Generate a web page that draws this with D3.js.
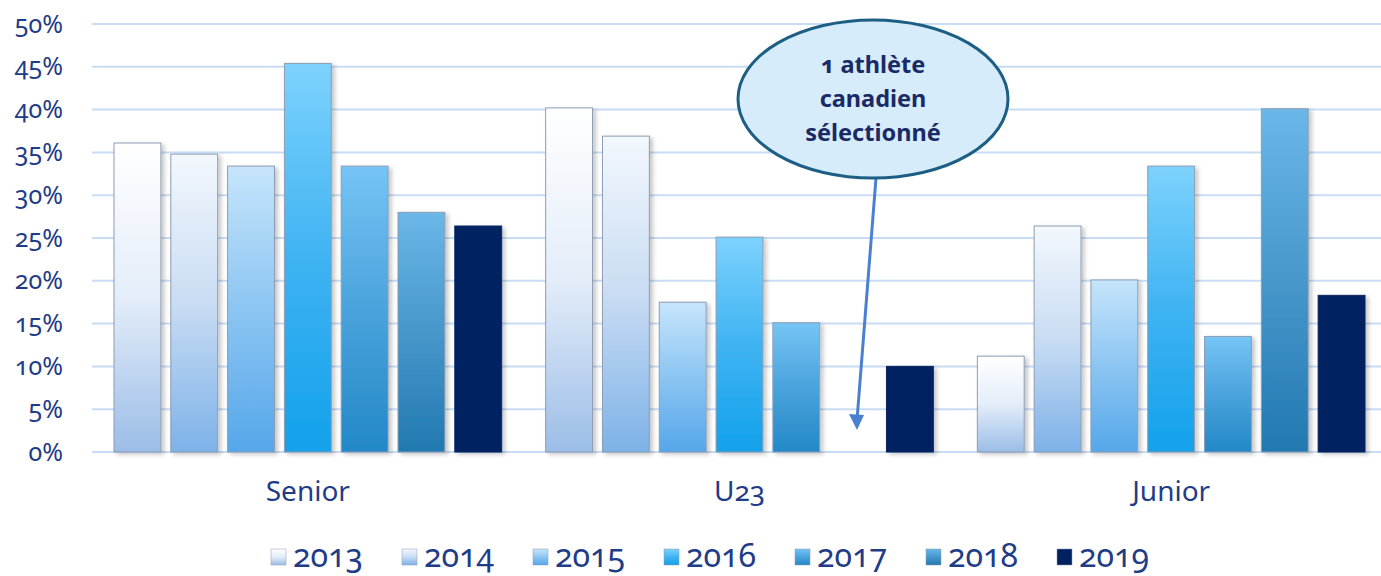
<!DOCTYPE html>
<html>
<head>
<meta charset="utf-8">
<script src="https://cdn.jsdelivr.net/npm/d3@7"></script>
<style>
  body { margin: 0; background: #fff; }
  text { font-family: "Noto Sans", "Open Sans", sans-serif; font-variant-numeric: oldstyle-nums; }
</style>
</head>
<body>
<div id="chart"></div>
<script>
// data (share of athletes, per category and year)
var categories = ["Senior", "U23", "Junior"];
var years = ["2013", "2014", "2015", "2016", "2017", "2018", "2019"];
var senior = [0.361, 0.348, 0.334, 0.454, 0.334, 0.280, 0.264];
var u23    = [0.402, 0.369, 0.175, 0.251, 0.151, null, 0.100];
var junior = [0.112, 0.264, 0.201, 0.334, 0.135, 0.401, 0.183];
var yTicks = [0, 0.05, 0.10, 0.15, 0.20, 0.25, 0.30, 0.35, 0.40, 0.45, 0.50];
var calloutLines = ["1 athlète", "canadien", "sélectionné"];

// gradient colours per year (top -> bottom)
var yearColors = {
  "2013": ["#ffffff", "#e4edf9", "#9bbde7"],
  "2014": ["#f3f8fd", "#c9dcf3", "#7db2e8"],
  "2015": ["#c6e5fb", "#8cc5f2", "#55a7ea"],
  "2016": ["#7dd2fd", "#3fb3f2", "#12a1eb"],
  "2017": ["#76c4f5", "#4aa3dc", "#2388c7"],
  "2018": ["#6ab7e8", "#4797cb", "#2179b0"],
  "2019": ["#002060", "#002060", "#002060"]
};

var values = [senior, u23, junior];
var data = categories.map(function(c, i) {
  return { cat: c, bars: years.map(function(y, j) { return { year: y, value: values[i][j] }; }) };
});

var W = 1381, H = 576;
var textColor = "#1f3c88";

var svg = d3.select("#chart").append("svg")
    .attr("width", W)
    .attr("height", H);

var defs = svg.append("defs");
years.forEach(function(y) {
  var g = defs.append("linearGradient")
      .attr("id", "grad" + y)
      .attr("x1", 0).attr("y1", 0).attr("x2", 0).attr("y2", 1);
  g.append("stop").attr("offset", "0%").attr("stop-color", yearColors[y][0]);
  g.append("stop").attr("offset", "50%").attr("stop-color", yearColors[y][1]);
  g.append("stop").attr("offset", "100%").attr("stop-color", yearColors[y][2]);
});
var shadow = defs.append("filter").attr("id", "shadow")
    .attr("x", "-20%").attr("y", "-10%").attr("width", "150%").attr("height", "130%");
shadow.append("feDropShadow")
    .attr("dx", 3).attr("dy", 2).attr("stdDeviation", 2)
    .attr("flood-color", "#000").attr("flood-opacity", 0.22);

// scales
var x0 = d3.scaleBand()
    .domain(categories)
    .range([92, 1387]);

var x1 = d3.scaleBand()
    .domain(years)
    .range([22, x0.bandwidth() - 22])
    .paddingInner(0.175);

var y = d3.scaleLinear()
    .domain([0, 0.5])
    .range([452, 24]);

// gridlines
svg.append("g").selectAll("line")
  .data(yTicks)
  .enter().append("line")
    .attr("x1", 92).attr("x2", W)
    .attr("y1", function(d) { return y(d); })
    .attr("y2", function(d) { return y(d); })
    .attr("stroke", "#c8dcf6")
    .attr("stroke-width", 2);

// y axis labels
var yAxis = svg.append("g")
    .attr("transform", "translate(63,0)")
    .call(d3.axisLeft(y).tickValues(yTicks).tickFormat(d3.format(".0%")).tickSize(0).tickPadding(0));
yAxis.select(".domain").remove();
yAxis.selectAll("text")
    .attr("fill", textColor)
    .style("font-size", "25px");

// bars
var groups = svg.append("g").selectAll("g")
  .data(data)
  .enter().append("g")
    .attr("transform", function(d) { return "translate(" + x0(d.cat) + ",0)"; });

groups.selectAll("rect")
  .data(function(d) { return d.bars.filter(function(b) { return b.value != null; }); })
  .enter().append("rect")
    .attr("x", function(d) { return x1(d.year); })
    .attr("y", function(d) { return y(d.value); })
    .attr("width", x1.bandwidth())
    .attr("height", function(d) { return y(0) - y(d.value); })
    .attr("fill", function(d) { return "url(#grad" + d.year + ")"; })
    .attr("stroke", function(d) { return d.year == "2019" ? "#0a2460" : "#8d9db3"; })
    .attr("stroke-width", 1)
    .attr("filter", "url(#shadow)");

// category labels
var xAxis = svg.append("g")
    .attr("transform", "translate(0,476)")
    .call(d3.axisBottom(x0).tickSize(0).tickPadding(0));
xAxis.select(".domain").remove();
xAxis.selectAll("text")
    .attr("fill", textColor)
    .attr("dy", "0.9em")
    .style("font-size", "28px");

// callout: ellipse + arrow
var callX = 873, callY = 99;
svg.append("line")
    .attr("x1", 876).attr("y1", 178)
    .attr("x2", 857).attr("y2", 420)
    .attr("stroke", "#4a80d2")
    .attr("stroke-width", 3);
svg.append("path")
    .attr("d", "M849,414 L857,430 L864,415 Z")
    .attr("fill", "#4a80d2");

svg.append("ellipse")
    .attr("cx", callX).attr("cy", callY)
    .attr("rx", 135).attr("ry", 79)
    .attr("fill", "#d6ecfa")
    .attr("stroke", "#1d5f84")
    .attr("stroke-width", 3);

svg.append("text")
    .attr("text-anchor", "middle")
    .attr("fill", "#1a2a66")
    .style("font-size", "23.5px")
    .style("font-weight", "bold")
  .selectAll("tspan")
  .data(calloutLines)
  .enter().append("tspan")
    .attr("x", callX)
    .attr("y", function(d, i) { return 73 + i * 34; })
    .text(function(d) { return d; });

// legend
var legend = svg.append("g").selectAll("g")
  .data(years)
  .enter().append("g")
    .attr("transform", function(d, i) { return "translate(" + (271 + i * 131) + ",549)"; });

legend.append("rect")
    .attr("width", 15).attr("height", 16)
    .attr("fill", function(d) { return "url(#grad" + d + ")"; })
    .attr("stroke", "#8d9db3")
    .attr("stroke-width", 0.5);

legend.append("text")
    .attr("x", 22)
    .attr("y", 18)
    .attr("fill", textColor)
    .style("font-size", "32px")
    .text(function(d) { return d; });
</script>
</body>
</html>
